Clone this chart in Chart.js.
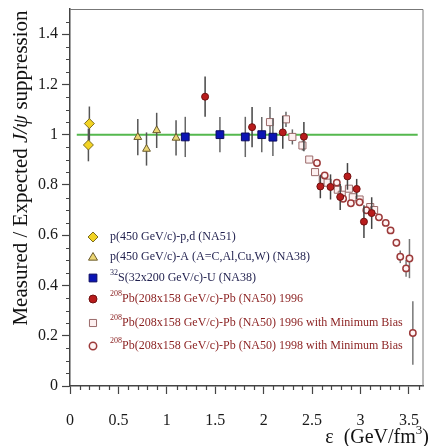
<!DOCTYPE html>
<html>
<head>
<meta charset="utf-8">
<script src="https://cdn.jsdelivr.net/npm/chart.js@4.4.0/dist/chart.umd.min.js"></script>
<style>
    html, body { margin: 0; padding: 0; background: #ffffff; }
    #wrap { width: 430px; height: 446px; }
</style>
</head>
<body>
<div id="wrap"><canvas id="suppressionChart" width="430" height="446"></canvas></div>
<script>
// Tick labels
const xTicks = [0, 0.5, 1, 1.5, 2, 2.5, 3, 3.5];
const yTicks = [0, 0.2, 0.4, 0.6, 0.8, 1, 1.2, 1.4];

// p(450 GeV/c)-p,d (NA51)
const na51X = [0.20, 0.19];
const na51Y = [1.044, 0.959];
const na51Err = [0.068, 0.065];

// p(450 GeV/c)-A (NA38)
const na38pX = [0.70, 0.79, 0.895, 1.095];
const na38pY = [0.99, 0.943, 1.017, 0.987];
const na38pErr = [0.072, 0.066, 0.07, 0.07];

// S-U (NA38)
const na38sX = [1.19, 1.548, 1.81, 1.98, 2.095];
const na38sY = [0.991, 1.0, 0.991, 1.0, 0.99];
const na38sErr = [0.08, 0.07, 0.08, 0.07, 0.075];

// Pb-Pb 1996 (NA50)
const pb96X = [1.395, 1.88, 2.197, 2.415, 2.585, 2.69, 2.79, 2.865, 2.96, 3.035, 3.115];
const pb96Y = [1.151, 1.03, 1.009, 0.992, 0.794, 0.792, 0.752, 0.834, 0.784, 0.654, 0.688];
const pb96Err = [0.08, 0.08, 0.065, 0.058, 0.047, 0.05, 0.052, 0.053, 0.04, 0.065, 0.063];

// Pb-Pb 1996 minimum bias
const pb96mbX = [2.065, 2.23, 2.296, 2.40, 2.47, 2.53, 2.61, 2.66, 2.765, 2.806, 2.88, 2.92, 2.99, 3.10, 3.14];
const pb96mbY = [1.05, 1.061, 0.991, 0.957, 0.901, 0.851, 0.82, 0.809, 0.781, 0.761, 0.785, 0.751, 0.742, 0.712, 0.70];
const pb96mbErr = [0.06, 0.03, 0.03, 0.02, 0, 0, 0, 0, 0, 0, 0, 0, 0, 0, 0];

// Pb-Pb 1998 minimum bias
const pb98mbX = [2.55, 2.63, 2.755, 2.82, 2.90, 2.99, 3.06, 3.19, 3.26, 3.31, 3.37, 3.41, 3.47, 3.505, 3.54];
const pb98mbY = [0.887, 0.838, 0.809, 0.745, 0.727, 0.731, 0.699, 0.671, 0.649, 0.619, 0.570, 0.514, 0.468, 0.507, 0.211];
const pb98mbErr = [0.01, 0.01, 0.01, 0.01, 0.01, 0.01, 0.01, 0.01, 0.01, 0.01, 0.015, 0.025, 0.033, 0.078, 0.126];

// Reference line at 1
const refX = [0.07, 3.59];
const refY = [1, 1];

// Legend rows: [superscript, text]
const legendLabels = [
    ['', 'p(450 GeV/c)-p,d (NA51)'],
    ['', 'p(450 GeV/c)-A (A=C,Al,Cu,W) (NA38)'],
    ['32', 'S(32x200 GeV/c)-U (NA38)'],
    ['208', 'Pb(208x158 GeV/c)-Pb (NA50) 1996'],
    ['208', 'Pb(208x158 GeV/c)-Pb (NA50) 1996 with Minimum Bias'],
    ['208', 'Pb(208x158 GeV/c)-Pb (NA50) 1998 with Minimum Bias']
];

const SERIF = '"Liberation Serif", "DejaVu Serif", serif';

function pts(xs, ys) {
    return xs.map((x, i) => ({ x: x, y: ys[i] }));
}

// Marker styles (shared by points and legend)
const styles = [
    { shape: 'diamond', fill: '#f2d324', stroke: '#7d6d1c', r: 5 },
    { shape: 'triangle', fill: '#ecd673', stroke: '#6a5a2a', r: 4.5 },
    { shape: 'square', fill: '#0a14b4', stroke: '#0a0a60', r: 5.5 },
    { shape: 'circle', fill: '#b81c1c', stroke: '#701010', r: 3.5 },
    { shape: 'square', fill: '#fdf0f0', stroke: '#9a6a6a', r: 5 },
    { shape: 'circle', fill: '#fff4f4', stroke: '#9c3a3a', r: 3.2 }
];

const chartStyle = { diamond: 'rectRot', triangle: 'triangle', square: 'rect', circle: 'circle' };

function seriesDataset(xs, ys, errs, s, order, errColor) {
    return {
        data: pts(xs, ys),
        errors: errs,
        errorColor: errColor,
        showLine: false,
        pointStyle: chartStyle[s.shape],
        pointRadius: s.r,
        pointHoverRadius: s.r,
        pointBackgroundColor: s.fill,
        pointBorderColor: s.stroke,
        pointBorderWidth: s.shape === 'circle' && s.fill !== '#b81c1c' ? 1.5 : 1,
        order: order
    };
}

// Vertical error bars, drawn just before each dataset's markers
const errorBars = {
    id: 'errorBars',
    beforeDatasetDraw(chart, args) {
        const ds = chart.data.datasets[args.index];
        if (!ds.errors) return;
        const ctx = chart.ctx;
        const xs = chart.scales.x, ys = chart.scales.y;
        ctx.save();
        ctx.strokeStyle = ds.errorColor;
        ctx.lineWidth = 1.5;
        ds.data.forEach((p, i) => {
            const e = ds.errors[i];
            if (!e) return;
            const px = xs.getPixelForValue(p.x);
            ctx.beginPath();
            ctx.moveTo(px, ys.getPixelForValue(p.y - e));
            ctx.lineTo(px, ys.getPixelForValue(p.y + e));
            ctx.stroke();
        });
        ctx.restore();
    }
};

function drawMarker(ctx, s, x, y) {
    ctx.save();
    ctx.fillStyle = s.fill;
    ctx.strokeStyle = s.stroke;
    ctx.lineWidth = 1;
    ctx.beginPath();
    if (s.shape === 'diamond') {
        ctx.moveTo(x, y - s.r); ctx.lineTo(x + s.r, y); ctx.lineTo(x, y + s.r); ctx.lineTo(x - s.r, y);
        ctx.closePath();
    } else if (s.shape === 'triangle') {
        ctx.moveTo(x, y - s.r); ctx.lineTo(x + s.r, y + s.r * 0.7); ctx.lineTo(x - s.r, y + s.r * 0.7);
        ctx.closePath();
    } else if (s.shape === 'square') {
        const h = s.r * Math.SQRT1_2;
        ctx.rect(x - h, y - h, 2 * h, 2 * h);
    } else {
        ctx.arc(x, y, s.r + 0.5, 0, Math.PI * 2);
        if (s.fill !== '#b81c1c') ctx.lineWidth = 1.5;
    }
    ctx.fill();
    ctx.stroke();
    ctx.restore();
}

// Frame, minor ticks, axis titles and legend
const decorations = {
    id: 'decorations',
    afterDraw(chart) {
        const ctx = chart.ctx;
        const a = chart.chartArea;
        const xs = chart.scales.x, ys = chart.scales.y;

        ctx.save();
        // top and right frame
        ctx.strokeStyle = '#777';
        ctx.lineWidth = 1;
        ctx.beginPath();
        ctx.moveTo(a.left, a.top + 0.5);
        ctx.lineTo(a.right - 0.5, a.top + 0.5);
        ctx.lineTo(a.right - 0.5, a.bottom);
        ctx.stroke();

        // minor ticks
        ctx.strokeStyle = '#444';
        ctx.lineWidth = 1.2;
        ctx.beginPath();
        for (let i = 1; i <= 36; i++) {
            if (i % 5 === 0) continue;
            const px = Math.round(xs.getPixelForValue(i / 10)) + 0.5;
            ctx.moveTo(px, a.bottom);
            ctx.lineTo(px, a.bottom + 4);
        }
        for (let i = 1; i < 30; i++) {
            if (i % 4 === 0) continue;
            const py = Math.round(ys.getPixelForValue(i * 0.05)) + 0.5;
            ctx.moveTo(a.left, py);
            ctx.lineTo(a.left - 4, py);
        }
        ctx.stroke();

        // y axis title
        ctx.fillStyle = '#111';
        ctx.textBaseline = 'middle';
        ctx.textAlign = 'left';
        const segs = [
            ['Measured / Expected ', 'normal'],
            ['J/\u03c8', 'italic'],
            [' suppression', 'normal']
        ];
        let total = 0;
        segs.forEach(sg => {
            ctx.font = sg[1] + ' 21px ' + SERIF;
            total += ctx.measureText(sg[0]).width;
        });
        ctx.save();
        ctx.translate(21, 168);
        ctx.rotate(-Math.PI / 2);
        let cx = -total / 2;
        segs.forEach(sg => {
            ctx.font = sg[1] + ' 21px ' + SERIF;
            ctx.fillText(sg[0], cx, 0);
            cx += ctx.measureText(sg[0]).width;
        });
        ctx.restore();

        // x axis title
        ctx.textBaseline = 'alphabetic';
        const t1 = '\u03b5  (GeV/fm', t3 = ')';
        ctx.font = '20px ' + SERIF;
        const w1 = ctx.measureText(t1).width, w3 = ctx.measureText(t3).width;
        ctx.font = '13px ' + SERIF;
        const w2 = ctx.measureText('3').width;
        const tx = 429 - (w1 + w2 + w3);
        ctx.font = '20px ' + SERIF;
        ctx.fillText(t1, tx, 443);
        ctx.font = '13px ' + SERIF;
        ctx.fillText('3', tx + w1, 434);
        ctx.font = '20px ' + SERIF;
        ctx.fillText(t3, tx + w1 + w2, 443);

        // legend
        const rowY = [237, 257, 278, 299, 323, 346];
        legendLabels.forEach((lab, i) => {
            const y = rowY[i];
            drawMarker(ctx, styles[i], 93, y);
            ctx.fillStyle = i < 3 ? '#1f1f4d' : '#8a1f1f';
            ctx.textBaseline = 'middle';
            let lx = 110;
            if (lab[0]) {
                ctx.font = '8px ' + SERIF;
                ctx.fillText(lab[0], lx, y - 5);
                lx += ctx.measureText(lab[0]).width;
            }
            ctx.font = '12px ' + SERIF;
            ctx.fillText(lab[1], lx, y);
        });
        ctx.restore();
    }
};

const ctx = document.getElementById('suppressionChart');

new Chart(ctx, {
    type: 'scatter',
    data: {
        datasets: [
            seriesDataset(na51X, na51Y, na51Err, styles[0], 1, '#555'),
            seriesDataset(na38pX, na38pY, na38pErr, styles[1], 1, '#555'),
            seriesDataset(na38sX, na38sY, na38sErr, styles[2], 1, '#666'),
            seriesDataset(pb96X, pb96Y, pb96Err, styles[3], 0, '#444'),
            seriesDataset(pb96mbX, pb96mbY, pb96mbErr, styles[4], 2, '#666'),
            seriesDataset(pb98mbX, pb98mbY, pb98mbErr, styles[5], 1, '#777'),
            {
                data: pts(refX, refY),
                showLine: true,
                borderColor: '#55b84e',
                borderWidth: 2,
                pointRadius: 0,
                pointHoverRadius: 0,
                order: 5
            }
        ]
    },
    options: {
        responsive: false,
        animation: false,
        events: [],
        layout: { padding: { top: 9, right: 2, left: 0, bottom: 0 } },
        plugins: {
            legend: { display: false },
            tooltip: { enabled: false }
        },
        scales: {
            x: {
                type: 'linear',
                min: 0,
                max: 3.65,
                afterBuildTicks: scale => { scale.ticks = xTicks.map(v => ({ value: v })); },
                afterFit: scale => {
                    scale.height = 60;
                    scale.paddingLeft = 0;
                    scale.paddingRight = 0;
                },
                border: { color: '#444', width: 1.5 },
                grid: { drawOnChartArea: false, drawTicks: true, tickLength: 8, color: '#444', tickWidth: 1.2 },
                ticks: {
                    color: '#1a1a1a',
                    padding: 17,
                    maxRotation: 0,
                    font: { family: SERIF, size: 16 },
                    callback: v => String(v)
                }
            },
            y: {
                min: 0,
                max: 1.5,
                afterBuildTicks: scale => { scale.ticks = yTicks.map(v => ({ value: v })); },
                afterFit: scale => {
                    scale.width = 70;
                    scale.paddingTop = 0;
                    scale.paddingBottom = 0;
                },
                border: { color: '#444', width: 1.5 },
                grid: { drawOnChartArea: false, drawTicks: true, tickLength: 8, color: '#444', tickWidth: 1.2 },
                ticks: {
                    color: '#1a1a1a',
                    padding: 4,
                    font: { family: SERIF, size: 16 },
                    callback: v => String(v)
                }
            }
        }
    },
    plugins: [errorBars, decorations]
});
</script>
</body>
</html>
